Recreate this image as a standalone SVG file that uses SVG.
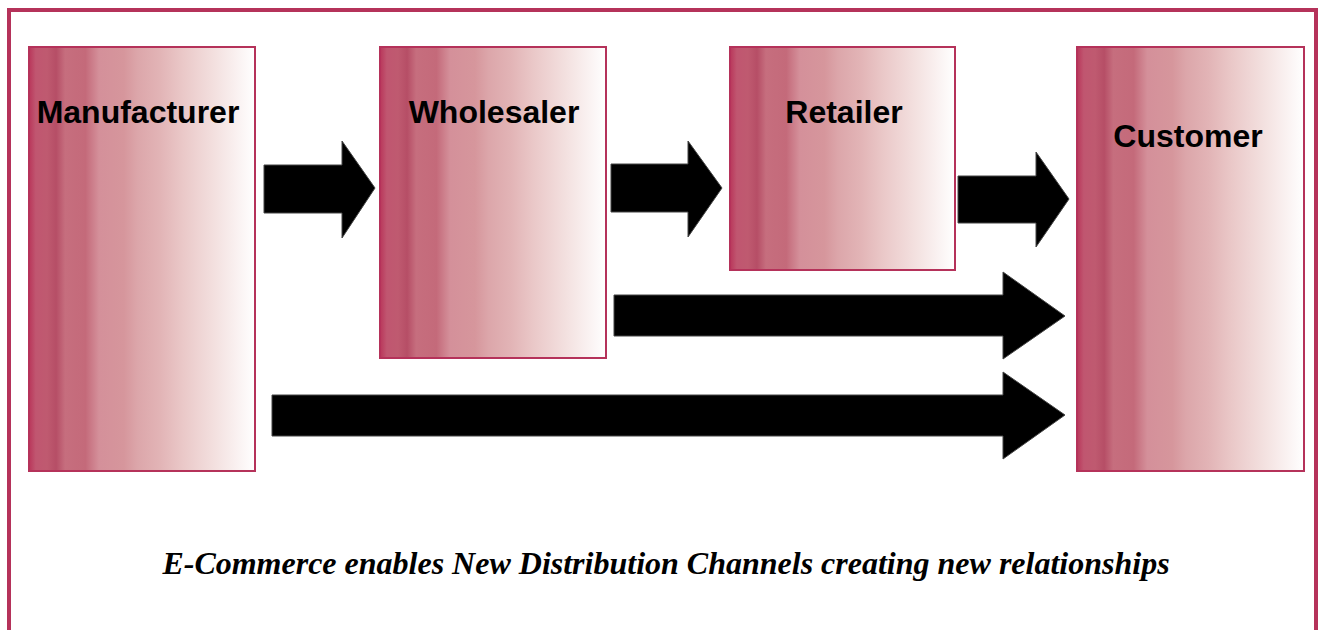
<svg xmlns="http://www.w3.org/2000/svg" width="1321" height="630" viewBox="0 0 1321 630">
<style>
.box{stroke:#b5325a;stroke-width:2;fill:url(#g)}
.lbl{font-family:"Liberation Sans",Arial,sans-serif;font-weight:bold;font-size:32px;fill:#000;text-anchor:middle}
.cap{font-family:"Liberation Serif","Times New Roman",serif;font-weight:bold;font-style:italic;font-size:32px;fill:#000;text-anchor:middle}
.arr{fill:#000;stroke:#444;stroke-width:1}
</style>
<defs>
<linearGradient id="g" x1="0" y1="0" x2="1" y2="0">
<stop offset="0" stop-color="#b9365a"/>
<stop offset="0.03" stop-color="#c05670"/>
<stop offset="0.08" stop-color="#bf5a70"/>
<stop offset="0.12" stop-color="#b64e66"/>
<stop offset="0.16" stop-color="#c66e7e"/>
<stop offset="0.25" stop-color="#c46a7a"/>
<stop offset="0.31" stop-color="#d4909a"/>
<stop offset="0.42" stop-color="#d6969c"/>
<stop offset="0.48" stop-color="#dca6aa"/>
<stop offset="0.58" stop-color="#e2b4b6"/>
<stop offset="0.68" stop-color="#eac8c8"/>
<stop offset="0.82" stop-color="#f3e0df"/>
<stop offset="1" stop-color="#ffffff"/>
</linearGradient>
</defs>
<rect x="0" y="0" width="1321" height="630" fill="#fff"/>
<rect x="9" y="10" width="1307" height="640" fill="none" stroke="#b5325a" stroke-width="4"/>
<g id="connectors">
<polygon class="arr" points="264,165 342,165 342,141 375,188 342,238 342,213 264,213"/>
<polygon class="arr" points="611,164 688,164 688,141 722,188 688,237 688,212 611,212"/>
<polygon class="arr" points="958,176 1036,176 1036,152 1069,199 1036,247 1036,223 958,223"/>
<polygon class="arr" points="614,295 1003,295 1003,272 1065,316 1003,359 1003,336 614,336"/>
<polygon class="arr" points="272,395 1003,395 1003,372 1065,415 1003,459 1003,436 272,436"/>
</g>
<g id="manufacturer">
<rect class="box" x="29" y="47" width="226" height="424"/>
<text class="lbl" x="138" y="123">Manufacturer</text>
</g>
<g id="wholesaler">
<rect class="box" x="380" y="47" width="226" height="311"/>
<text class="lbl" x="494" y="123">Wholesaler</text>
</g>
<g id="retailer">
<rect class="box" x="730" y="47" width="225" height="223"/>
<text class="lbl" x="844" y="123">Retailer</text>
</g>
<g id="customer">
<rect class="box" x="1077" y="47" width="227" height="424"/>
<text class="lbl" x="1188" y="147">Customer</text>
</g>
<text class="cap" x="666" y="574">E-Commerce enables New Distribution Channels creating new relationships</text>
</svg>
